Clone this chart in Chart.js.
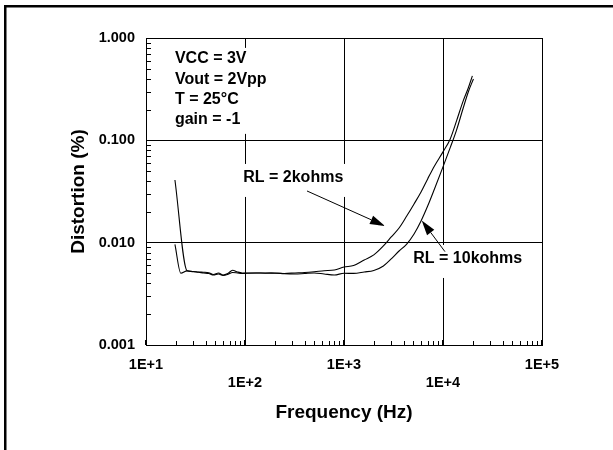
<!DOCTYPE html>
<html>
<head>
<meta charset="utf-8">
<script src="https://cdn.jsdelivr.net/npm/chart.js@4/dist/chart.umd.min.js"></script>
<style>
  html, body { margin: 0; padding: 0; background: #fff; }
  #wrap { position: relative; width: 613px; height: 450px; }
</style>
</head>
<body>
<div id="wrap"><canvas id="distortionChart"></canvas></div>
<script>
// Distortion vs frequency
const freqRL2k = [19.6, 26, 30, 34, 38, 43, 48, 54, 60, 67, 75, 84, 94, 105, 130, 160, 200, 250, 320, 400,
  500, 630, 800, 1000, 1250, 1600, 2000, 2500, 3000, 3600, 4300, 5100, 6000, 7000, 8200, 10000, 11800, 13700, 16000, 18000, 19800];
const distRL2k = [0.041, 0.00532, 0.00523, 0.00517, 0.00514, 0.00509, 0.00489, 0.00506, 0.00483, 0.00500,
  0.00538, 0.00517, 0.00506, 0.00506, 0.00506, 0.00506, 0.00503, 0.00500, 0.00506, 0.00511,
  0.00520, 0.00532, 0.00541, 0.00578, 0.00598, 0.00678, 0.00759, 0.00929, 0.01137, 0.0139,
  0.0182, 0.0239, 0.0313, 0.0420, 0.0562, 0.0771, 0.1026, 0.155, 0.243, 0.325, 0.426];

const freqRL10k = [19.6, 22.5, 26, 30, 34, 38, 43, 48, 54, 60, 67, 75, 84, 94, 105, 130, 160, 200, 250, 320,
  400, 500, 630, 800, 1000, 1250, 1600, 2000, 2500, 3000, 3600, 4300, 5100, 6000, 7000, 8200, 10000, 11800, 13700, 16000, 18000, 20300];
const distRL10k = [0.0096, 0.00502, 0.0053, 0.00520, 0.00514, 0.00506, 0.00500, 0.00483, 0.00494, 0.00478,
  0.00489, 0.00511, 0.00506, 0.00500, 0.00503, 0.00506, 0.00503, 0.00506, 0.00497, 0.00494,
  0.00500, 0.00506, 0.00494, 0.00483, 0.00502, 0.00501, 0.00517, 0.00535, 0.00592, 0.00693,
  0.00829, 0.0097, 0.01217, 0.0163, 0.0228, 0.0335, 0.0550, 0.0843, 0.126, 0.207, 0.297, 0.398];

const xTickValues = [10, 100, 1000, 10000, 100000];
const xTickLabels = ['1E+1', '1E+2', '1E+3', '1E+4', '1E+5'];
const yTickValues = [0.001, 0.01, 0.1, 1];
const yTickLabels = ['0.001', '0.010', '0.100', '1.000'];

const conditionLines = ['VCC = 3V', 'Vout = 2Vpp', 'T = 25°C', 'gain = -1'];
const labelRL2k = 'RL = 2kohms';
const labelRL10k = 'RL = 10kohms';

const FONT = "'Liberation Sans', Arial, Helvetica, sans-serif";

function toPoints(xs, ys) {
  return xs.map((x, i) => ({ x: x, y: ys[i] }));
}

function drawArrow(ctx, x0, y0, x1, y1) {
  const ang = Math.atan2(y1 - y0, x1 - x0);
  const len = 15, half = 4.5;
  const bx = x1 - len * Math.cos(ang), by = y1 - len * Math.sin(ang);
  ctx.beginPath();
  ctx.moveTo(x0, y0);
  ctx.lineTo(bx, by);
  ctx.stroke();
  ctx.beginPath();
  ctx.moveTo(x1, y1);
  ctx.lineTo(bx + half * Math.sin(ang), by - half * Math.cos(ang));
  ctx.lineTo(bx - half * Math.sin(ang), by + half * Math.cos(ang));
  ctx.closePath();
  ctx.fill();
}

// White page and the outer frame
const pageFrame = {
  id: 'pageFrame',
  beforeDraw(chart) {
    const ctx = chart.ctx;
    ctx.save();
    ctx.fillStyle = '#fff';
    ctx.fillRect(0, 0, chart.width, chart.height);
    ctx.fillStyle = '#000';
    ctx.fillRect(4, 5, chart.width - 4, 2.5);
    ctx.fillRect(4, 5, 2.5, chart.height - 5);
    ctx.restore();
  }
};

// Minor ticks inside the left and bottom axes
const minorTicks = {
  id: 'minorTicks',
  afterDraw(chart) {
    const { ctx, chartArea } = chart;
    const xs = chart.scales.x, ys = chart.scales.y;
    ctx.save();
    ctx.strokeStyle = '#000';
    ctx.lineWidth = 1;
    ctx.beginPath();
    for (let d = 10; d < 100000; d *= 10) {
      for (let m = 2; m <= 9; m++) {
        const px = Math.round(xs.getPixelForValue(d * m)) + 0.5;
        ctx.moveTo(px, chartArea.bottom);
        ctx.lineTo(px, chartArea.bottom - 4);
      }
    }
    for (let d = 0.001; d < 0.9; d *= 10) {
      for (let m = 2; m <= 9; m++) {
        const py = Math.round(ys.getPixelForValue(d * m)) + 0.5;
        ctx.moveTo(chartArea.left, py);
        ctx.lineTo(chartArea.left + 5, py);
      }
    }
    ctx.stroke();
    // heavier decade ticks on the frequency axis
    ctx.lineWidth = 2;
    ctx.beginPath();
    xTickValues.forEach((v) => {
      const px = Math.round(xs.getPixelForValue(v));
      ctx.moveTo(px, chartArea.bottom);
      ctx.lineTo(px, chartArea.bottom - 5);
    });
    ctx.stroke();
    ctx.restore();
  }
};

// Test conditions and curve labels
const curveNotes = {
  id: 'curveNotes',
  afterDatasetsDraw(chart) {
    const ctx = chart.ctx;
    const xs = chart.scales.x, ys = chart.scales.y;
    ctx.save();
    ctx.font = 'bold 16px ' + FONT;
    ctx.textAlign = 'left';
    ctx.textBaseline = 'middle';

    const cx = xs.getPixelForValue(19.6), cy = ys.getPixelForValue(0.625);
    ctx.fillStyle = '#fff';
    ctx.fillRect(cx - 5, cy - 11, 100, 86);
    ctx.fillStyle = '#000';
    conditionLines.forEach((t, i) => ctx.fillText(t, cx, cy + i * 20.3));

    const ax = xs.getPixelForValue(96), ay = ys.getPixelForValue(0.0429);
    ctx.fillStyle = '#fff';
    ctx.fillRect(ax - 5, ay - 14, 112, 33);
    ctx.fillStyle = '#000';
    ctx.fillText(labelRL2k, ax, ay);

    const bx = xs.getPixelForValue(5012), by = ys.getPixelForValue(0.00693);
    ctx.fillStyle = '#fff';
    ctx.fillRect(bx - 5, by - 14, 118, 33);
    ctx.fillStyle = '#000';
    ctx.fillText(labelRL10k, bx, by);

    ctx.strokeStyle = '#000';
    ctx.lineWidth = 1;
    drawArrow(ctx, xs.getPixelForValue(423), ys.getPixelForValue(0.032),
      xs.getPixelForValue(2594), ys.getPixelForValue(0.01456));
    drawArrow(ctx, xs.getPixelForValue(10470), ys.getPixelForValue(0.00817),
      xs.getPixelForValue(6095), ys.getPixelForValue(0.0165));
    ctx.restore();
  }
};

const tickFont = { family: FONT, weight: 'bold', size: 14.5, lineHeight: 1.26 };
const titleFont = { family: FONT, weight: 'bold', size: 19, lineHeight: 1.2 };

const ctx = document.getElementById('distortionChart').getContext('2d');
const chart = new Chart(ctx, {
  type: 'line',
  data: {
    datasets: [
      {
        label: labelRL2k,
        data: toPoints(freqRL2k, distRL2k),
        borderColor: '#000',
        borderWidth: 1.1,
        pointRadius: 0,
        cubicInterpolationMode: 'monotone',
        fill: false
      },
      {
        label: labelRL10k,
        data: toPoints(freqRL10k, distRL10k),
        borderColor: '#000',
        borderWidth: 1.1,
        pointRadius: 0,
        cubicInterpolationMode: 'monotone',
        fill: false
      }
    ]
  },
  options: {
    responsive: true,
    maintainAspectRatio: false,
    devicePixelRatio: 1,
    animation: false,
    layout: { padding: { left: 0, right: 71, top: 38, bottom: 0 } },
    scales: {
      x: {
        type: 'logarithmic',
        position: 'bottom',
        min: 10,
        max: 100000,
        afterBuildTicks: (scale) => { scale.ticks = xTickValues.map((v) => ({ value: v })); },
        afterFit: (scale) => { scale.height = 105; },
        ticks: {
          autoSkip: false,
          maxRotation: 0,
          minRotation: 0,
          padding: 11,
          color: '#000',
          font: tickFont,
          callback: (value, index) => (index % 2 ? ['', xTickLabels[index]] : xTickLabels[index])
        },
        grid: { color: '#000', lineWidth: 1, drawTicks: false },
        border: { color: '#000', width: 1 },
        title: {
          display: true,
          text: 'Frequency (Hz)',
          color: '#000',
          font: titleFont,
          padding: { top: 0, bottom: 26 }
        }
      },
      y: {
        type: 'logarithmic',
        position: 'left',
        min: 0.001,
        max: 1,
        afterBuildTicks: (scale) => { scale.ticks = yTickValues.map((v) => ({ value: v })); },
        afterFit: (scale) => { scale.width = 146; },
        ticks: {
          padding: 11,
          color: '#000',
          font: tickFont,
          callback: (value, index) => yTickLabels[index]
        },
        grid: { color: '#000', lineWidth: 1, drawTicks: false },
        border: { color: '#000', width: 1 },
        title: {
          display: true,
          text: 'Distortion (%)',
          color: '#000',
          font: titleFont,
          padding: { top: 67, bottom: 0 }
        }
      }
    },
    plugins: {
      legend: { display: false },
      tooltip: { enabled: false }
    }
  },
  plugins: [pageFrame, minorTicks, curveNotes]
});
</script>
</body>
</html>
